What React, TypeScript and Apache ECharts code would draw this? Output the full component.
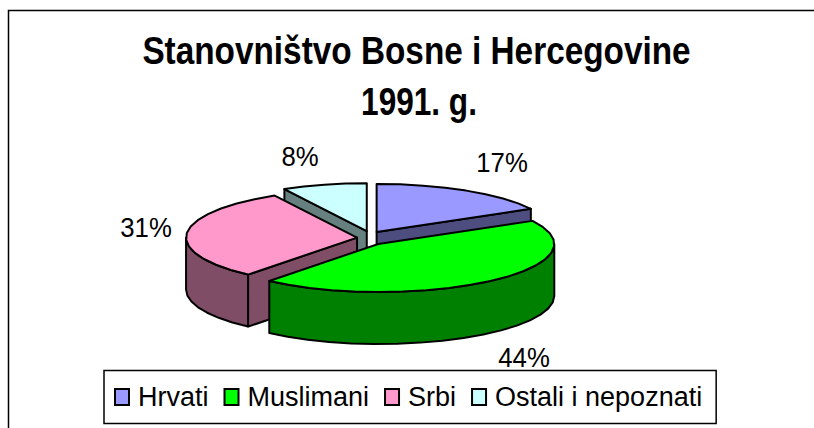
import React, { useEffect, useRef } from "react";
import * as echarts from "echarts";

const categories = ["Hrvati", "Muslimani", "Srbi", "Ostali i nepoznati"];
const values = [17, 44, 31, 8];
const topColors = ["#9999FF", "#00FF00", "#FF99CC", "#CCFFFF"];
const sideColors = ["#4D4D80", "#008000", "#804D66", "#668080"];
const drawOrder = [1, 3, 2, 0]; // painter's order per slice: back slices first
const labelCentres = [[502, 163], [524, 358], [146, 228], [300, 157]];
const titleLines = ["Stanovništvo Bosne i Hercegovine", "1991. g."];
const titleLayout = [
  { x: 416.5, y: 51, scaleX: 0.855 },
  { x: 419, y: 101.5, scaleX: 0.81 },
];

const FONT = '"Liberation Sans", Arial, sans-serif';
const CX = 370, CY = 238.3, RX_R = 176, RX_L = 171, RY = 48, DEPTH = 52, EX = 13, EY = 7.4;
const total = values.reduce((a, b) => a + b, 0);

const point = (deg: number, ox: number, oy: number) => {
  const r = (deg * Math.PI) / 180;
  const s = Math.sin(r);
  return [ox + s * (s < 0 ? RX_L : RX_R), oy - Math.cos(r) * RY];
};
const arc = (a: number, b: number, ox: number, oy: number) => {
  const pts: number[][] = [];
  const n = Math.max(2, Math.ceil((b - a) / 8));
  for (let i = 0; i <= n; i++) pts.push(point(a + ((b - a) * i) / n, ox, oy));
  return pts;
};
const lineStyle = (fill: string) => ({ fill, stroke: "#000", lineWidth: 2, lineJoin: "round" });
const down = (pts: number[][]) => pts.map(([x, y]) => [x, y + DEPTH]);

const sliceRenderer = (idx: number) => (_p: any, api: any) => {
  const value = api.value(0);
  const before = values.slice(0, idx).reduce((a, b) => a + b, 0);
  const start = (before / total) * 360;
  const end = start + (value / total) * 360;
  const mid = ((start + end) / 2 * Math.PI) / 180;
  const ox = CX + EX * Math.sin(mid);
  const oy = CY - EY * Math.cos(mid);
  const apex = [ox, oy];
  const children: any[] = [];
  const poly = (pts: number[][], fill: string) =>
    children.push({ type: "polygon", shape: { points: pts }, style: lineStyle(fill) });

  // cut faces that look towards the viewer
  const cutFace = (deg: number) => {
    const p = point(deg, ox, oy);
    poly([apex, p, [p[0], p[1] + DEPTH], [ox, oy + DEPTH]], sideColors[idx]);
  };
  if (start > 180 && start < 360) cutFace(start);
  if (end > 0 && end < 180) cutFace(end);

  // outer rim on the front half
  const a = Math.max(start, 90);
  const b = Math.min(end, 270);
  if (b > a) {
    const rim = arc(a, b, ox, oy);
    poly([...rim, ...down(rim).reverse()], sideColors[idx]);
  }
  poly([apex, ...arc(start, end, ox, oy)], topColors[idx]);
  const [lx, ly] = labelCentres[idx];
  children.push({
    type: "text",
    x: lx,
    y: ly,
    scaleX: 0.92,
    style: { text: `${value}%`, fontFamily: FONT, fontSize: 28, fill: "#000", align: "center", verticalAlign: "middle" },
  });
  return { type: "group", children };
};

export default function App() {
  const ref = useRef<HTMLDivElement>(null);
  useEffect(() => {
    const chart = echarts.init(ref.current!, null, { renderer: "svg" });
    chart.setOption({
      animation: false,
      backgroundColor: "#fff",
      legend: {
        data: categories,
        left: 104,
        top: 370.5,
        orient: "horizontal",
        backgroundColor: "#fff",
        borderColor: "#000",
        borderWidth: 1.5,
        padding: [13, 14, 13, 10],
        itemWidth: 14,
        itemHeight: 16,
        itemGap: 15,
        icon: "rect",
        itemStyle: { borderColor: "#000", borderWidth: 2 },
        textStyle: { fontFamily: FONT, fontSize: 27, color: "#000", padding: [0, 0, 0, 4] },
        selectedMode: false,
      },
      graphic: [
        { type: "polyline", silent: true, shape: { points: [[8.5, 428], [8.5, 10.5], [814, 10.5]] }, style: { stroke: "#000", lineWidth: 1.5, fill: "none" } },
        ...titleLines.map((text, i) => ({
          type: "text",
          silent: true,
          x: titleLayout[i].x,
          y: titleLayout[i].y,
          scaleX: titleLayout[i].scaleX,
          style: { text, fontFamily: FONT, fontSize: 39, fontWeight: "bold", fill: "#000", align: "center", verticalAlign: "middle" },
        })),
      ],
      series: categories.map((name, i) => ({
        type: "custom",
        name,
        coordinateSystem: "none",
        z: 2 + drawOrder[i],
        itemStyle: { color: topColors[i] },
        data: [[values[i]]],
        renderItem: sliceRenderer(i),
      })),
    });
    return () => chart.dispose();
  }, []);
  return <div ref={ref} style={{ position: "fixed", left: 0, top: 0, width: 814, height: 428 }} />;
}
